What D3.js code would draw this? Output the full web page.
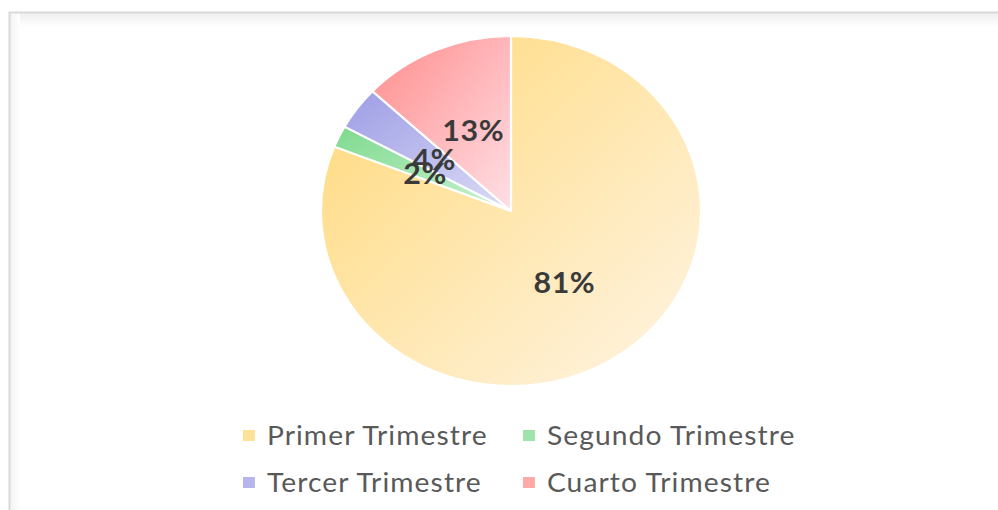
<!DOCTYPE html>
<html>
<head>
<meta charset="utf-8">
<script src="https://cdn.jsdelivr.net/npm/d3@7"></script>
<style>
  html, body { margin: 0; padding: 0; background: #ffffff; }
  svg { display: block; }
</style>
</head>
<body>
<svg id="chart" width="998" height="510"></svg>
<script>
// Quarterly shares (percent)
const categories = ["Primer Trimestre", "Segundo Trimestre", "Tercer Trimestre", "Cuarto Trimestre"];
const shares = [81, 2, 4, 13];
// Gradient end colours per quarter: saturated and light
const colorsDeep  = ["#FFD877", "#7EDA8E", "#9D9DE5", "#FF8C8C"];
const colorsLight = ["#FFF5E6", "#CBF1D3", "#DCDCF6", "#FFE0E6"];

const W = 998, H = 510;
const svg = d3.select("#chart");
const defs = svg.append("defs");

// chart frame: top and left border with soft shading
const shade = defs.append("linearGradient").attr("id", "topShade")
  .attr("x1", 0).attr("y1", 0).attr("x2", 0).attr("y2", 1);
shade.append("stop").attr("offset", 0).attr("stop-color", "#efefef");
shade.append("stop").attr("offset", 1).attr("stop-color", "#ffffff");
svg.append("rect").attr("x", 10).attr("y", 13).attr("width", W - 10).attr("height", 14)
  .attr("fill", "url(#topShade)");
const lshade = defs.append("linearGradient").attr("id", "leftShade")
  .attr("x1", 0).attr("y1", 0).attr("x2", 1).attr("y2", 0);
lshade.append("stop").attr("offset", 0).attr("stop-color", "#f3f3f3");
lshade.append("stop").attr("offset", 1).attr("stop-color", "#ffffff");
svg.append("rect").attr("x", 10).attr("y", 13).attr("width", 10).attr("height", H - 13)
  .attr("fill", "url(#leftShade)");
svg.append("path").attr("d", `M9.5,${H} V12.5 H${W}`)
  .attr("fill", "none").attr("stroke", "#d9d9d9").attr("stroke-width", 2);

// per-slice gradients
categories.forEach((c, i) => {
  const g = defs.append("linearGradient").attr("id", "grad" + i)
    .attr("x1", 0).attr("y1", 0).attr("x2", 1).attr("y2", 1);
  g.append("stop").attr("offset", 0).attr("stop-color", colorsDeep[i]);
  g.append("stop").attr("offset", 1).attr("stop-color", colorsLight[i]);
});

const cx = 511, cy = 211, R = 175, sx = 190 / 175;

const pie = d3.pie().sort(null).value(d => d);
const arcs = pie(shares);
const arc = d3.arc().innerRadius(0).outerRadius(R);

const gPie = svg.append("g").attr("transform", `translate(${cx},${cy}) scale(${sx},1)`);

gPie.selectAll("path.slice").data(arcs).enter().append("path")
  .attr("class", "slice")
  .attr("d", arc)
  .attr("fill", (d, i) => `url(#grad${i})`)
  .attr("stroke", "#ffffff")
  .attr("stroke-width", 2)
  .attr("stroke-linejoin", "round");

gPie.selectAll("text.pct").data(arcs).enter().append("text")
  .attr("class", "pct")
  .attr("transform", d => `translate(${arc.centroid(d)})`)
  .attr("text-anchor", "middle")
  .attr("dy", "0.36em")
  .attr("font-family", "Lato, 'DejaVu Sans', sans-serif")
  .attr("font-weight", "bold")
  .attr("font-size", 28)
  .attr("letter-spacing", 0.5)
  .attr("fill", "#3a3a3a")
  .text(d => d.data + "%");

// legend: two columns, two rows
const colX = [243, 523], rowY = [436, 483];
const legend = svg.append("g");
categories.forEach((c, i) => {
  const item = legend.append("g")
    .attr("transform", `translate(${colX[i % 2]},${rowY[Math.floor(i / 2)]}) scale(${sx},1)`);
  item.append("rect").attr("x", 0).attr("y", -6).attr("width", 11).attr("height", 11)
    .attr("fill", colorsDeep[i]).attr("opacity", 0.75);
  item.append("text").attr("x", 22).attr("y", 0).attr("dy", "0.35em")
    .attr("font-family", "Lato, 'DejaVu Sans', sans-serif")
    .attr("font-size", 26)
    .attr("letter-spacing", 1)
    .attr("fill", "#595959")
    .text(c);
});
</script>
</body>
</html>
